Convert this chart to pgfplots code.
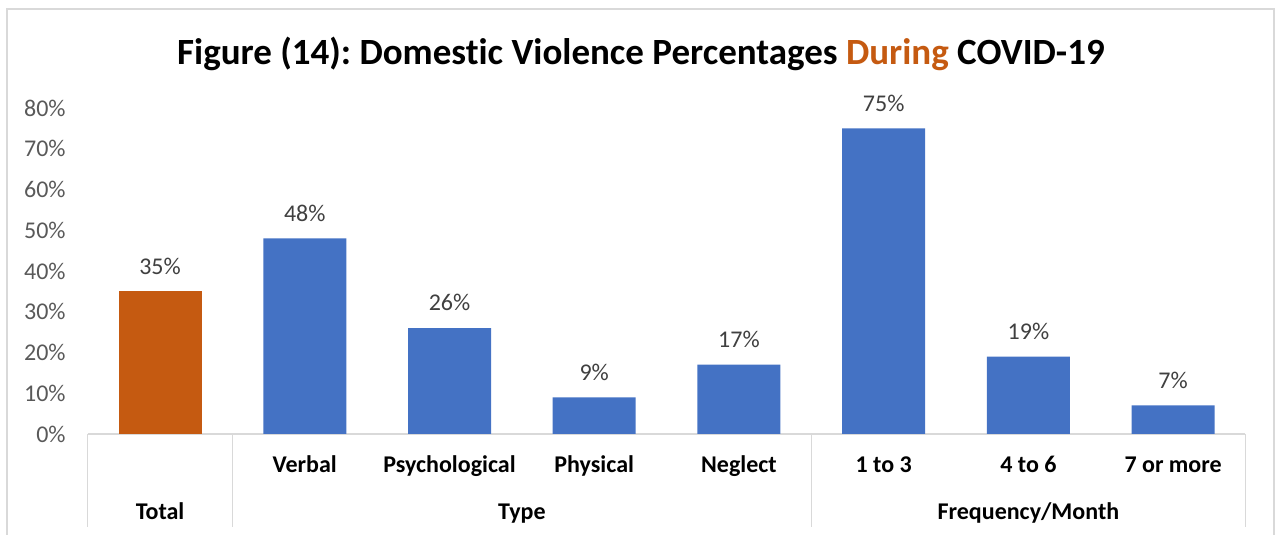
\documentclass[border=0pt]{standalone}
\usepackage{pgfplots}
\pgfplotsset{compat=1.18}
\usepackage{fontspec}
\setmainfont[Ligatures=NoCommon]{Carlito}
\frenchspacing
\definecolor{barblue}{HTML}{4472C4}
\definecolor{barorange}{HTML}{C55A11}
\definecolor{axgray}{HTML}{D9D9D9}
\definecolor{tickgray}{HTML}{595959}
\definecolor{lblgray}{HTML}{404040}
\begin{document}
\begin{tikzpicture}[x=1pt,y=1pt]
\path[use as bounding box] (0,0) rectangle (638,267.5);
\draw[axgray, line width=0.8pt] (3.5,0) -- (3.5,263) -- (637,263) -- (637,0);
\node[anchor=base, font=\bfseries\fontsize{18.5}{22}\selectfont] at (320.5,235) {Figure (14): Domestic Violence Percentages \textcolor{barorange}{During} COVID-19};
\begin{axis}[
  at={(43.85pt,50.5pt)}, anchor=south west,
  scale only axis, width=578.9pt, height=163pt,
  xmin=-0.5, xmax=7.5, ymin=0, ymax=80,
  clip=false,
  axis x line*=bottom, axis y line*=left,
  x axis line style={axgray, line width=0.8pt},
  y axis line style={draw=none},
  major tick length=0pt,
  ytick={0,10,...,80},
  yticklabels={0\%,10\%,20\%,30\%,40\%,50\%,60\%,70\%,80\%},
  yticklabel style={font=\fontsize{12}{14}\selectfont, text=tickgray, xshift=-7.5pt},
  xtick={0,...,7},
  xticklabels={,Verbal,Psychological,Physical,Neglect,1 to 3,4 to 6,7 or more},
  xticklabel style={font=\bfseries\fontsize{12}{14}\selectfont, anchor=base, yshift=-19.4pt},
  ybar, bar width=41.5pt, bar shift=0pt,
  nodes near coords={\pgfmathprintnumber[assume math mode=true]{\pgfplotspointmeta}\%},
  every node near coord/.append style={font=\fontsize{12}{14}\selectfont, text=lblgray, yshift=5pt},
]
\addplot[fill=barorange, draw=none] coordinates {(0,35)};
\addplot[fill=barblue, draw=none] coordinates {(1,48) (2,26) (3,9) (4,17) (5,75) (6,19) (7,7)};
\draw[axgray, line width=0.8pt] (axis cs:-0.5,0) -- ++(0pt,-46.5pt);
\draw[axgray, line width=0.8pt] (axis cs:0.5,0) -- ++(0pt,-46.5pt);
\draw[axgray, line width=0.8pt] (axis cs:4.5,0) -- ++(0pt,-46.5pt);
\draw[axgray, line width=0.8pt] (axis cs:7.5,0) -- ++(0pt,-46.5pt);
\node[anchor=base, font=\bfseries\fontsize{12}{14}\selectfont, yshift=-42.7pt] at (axis cs:0,0) {Total};
\node[anchor=base, font=\bfseries\fontsize{12}{14}\selectfont, yshift=-42.7pt] at (axis cs:2.5,0) {Type};
\node[anchor=base, font=\bfseries\fontsize{12}{14}\selectfont, yshift=-42.7pt] at (axis cs:6,0) {Frequency/Month};
\end{axis}
\end{tikzpicture}
\end{document}
